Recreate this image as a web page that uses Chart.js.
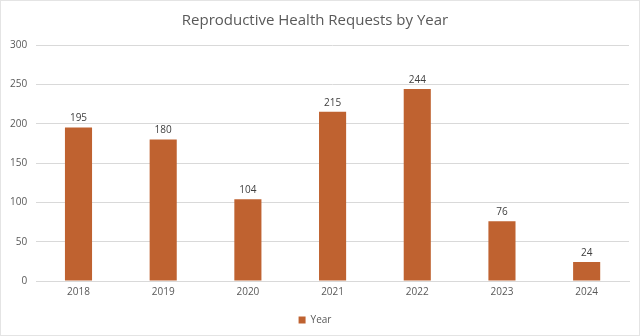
<!DOCTYPE html>
<html><head><meta charset="utf-8">
<script src="https://cdn.jsdelivr.net/npm/chart.js@4/dist/chart.umd.min.js"></script>
<style>
html,body{margin:0;padding:0;background:#fff;}
#wrap{position:relative;width:638px;height:334px;border:1px solid #e4e4e4;}
</style></head>
<body><div id="wrap"><canvas id="c" width="638" height="334"></canvas></div>
<script>
const categories = ["2018","2019","2020","2021","2022","2023","2024"];
const requests = [195,180,104,215,244,76,24];
const seriesName = "Year";
const titleText = "Reproductive Health Requests by Year";

const labelPlugin = {
  id:'valueLabels',
  afterDatasetsDraw(chart){
    const ctx = chart.ctx;
    const meta = chart.getDatasetMeta(0);
    ctx.save();
    ctx.fillStyle = '#404040';
    ctx.font = '10px "Open Sans", sans-serif';
    ctx.textAlign = 'center';
    ctx.textBaseline = 'bottom';
    meta.data.forEach((el,i)=>{
      ctx.fillText(String(chart.data.datasets[0].data[i]), el.x, el.y - 4);
    });
    ctx.restore();
  }
};

new Chart(document.getElementById('c'), {
  type:'bar',
  data:{labels:categories, datasets:[{label:seriesName, data:requests, backgroundColor:'#BF6230', categoryPercentage:0.64, barPercentage:0.5}]},
  options:{
    responsive:false, animation:false,
    layout:{padding:{left:0,right:10,top:4,bottom:0}},
    plugins:{
      title:{display:true,text:titleText,color:'#595959',font:{family:'"Open Sans", sans-serif',size:15,weight:'normal'},padding:{top:7,bottom:15}},
      legend:{position:'bottom',labels:{color:'#595959',boxWidth:7,boxHeight:7,font:{family:'"Open Sans", sans-serif',size:10},padding:12}},
      tooltip:{enabled:false}
    },
    scales:{
      x:{grid:{display:false,drawTicks:false},border:{display:true,color:'#d9d9d9'},ticks:{color:'#595959',font:{family:'"Open Sans", sans-serif',size:10},padding:5}},
      y:{min:0,max:300,ticks:{stepSize:50,color:'#595959',font:{family:'"Open Sans", sans-serif',size:10},padding:9},grid:{color:'#d9d9d9',drawTicks:false},border:{display:false}}
    }
  },
  plugins:[labelPlugin]
});
</script></body></html>
